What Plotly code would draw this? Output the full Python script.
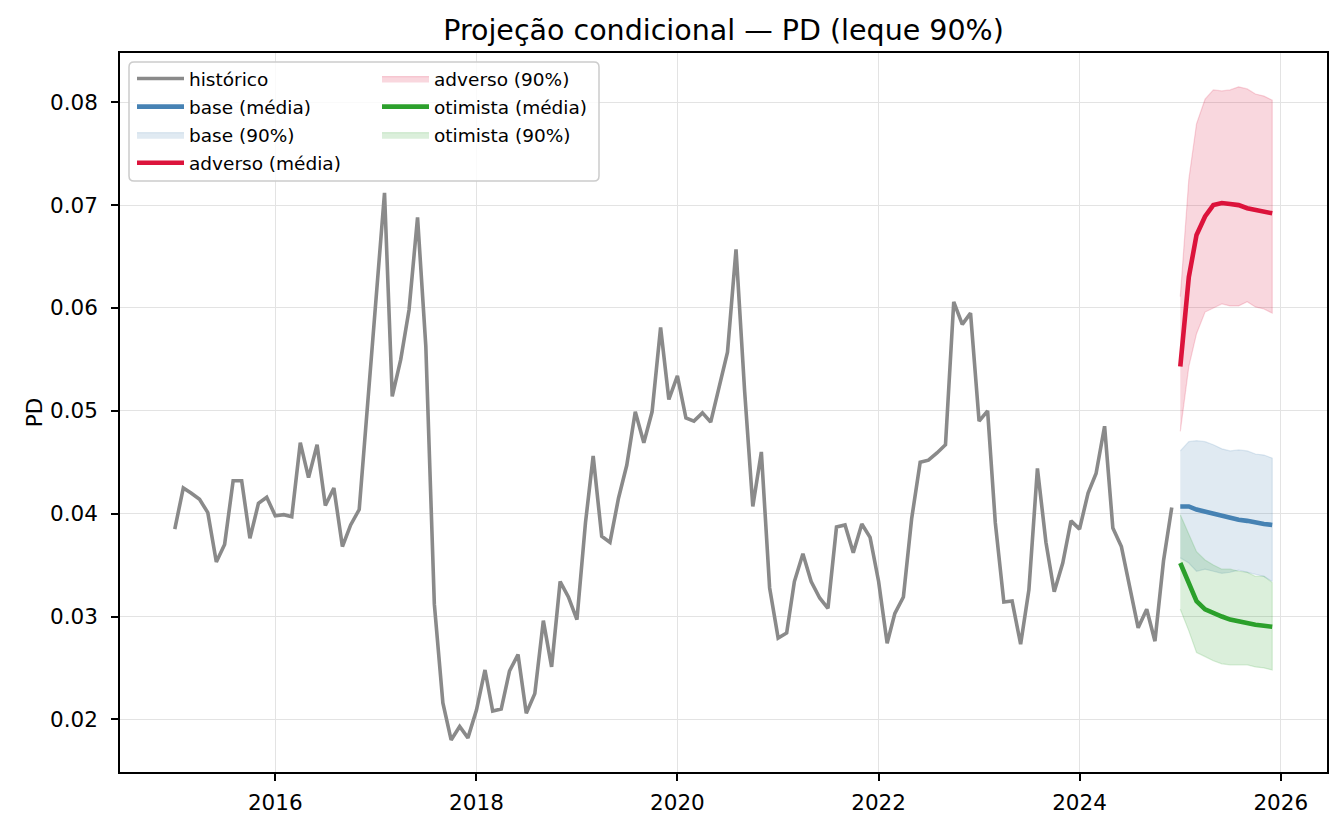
import pandas as pd
import plotly.graph_objects as go

# ---------------- dados ----------------
hist_start = "2015-01-01"
fcst_start = "2025-01-01"

historico = [
    0.0385, 0.0425, 0.0420, 0.0414, 0.0401, 0.0353, 0.0370, 0.0432, 0.0432, 0.0376, 0.0410, 0.0416,
    0.0398, 0.0399, 0.0397, 0.0469, 0.0435, 0.0467, 0.0408, 0.0425, 0.0368, 0.0389, 0.0404, 0.0503,
    0.0603, 0.0712, 0.0514, 0.0550, 0.0598, 0.0688, 0.0563, 0.0312, 0.0216, 0.0180, 0.0193, 0.0182,
    0.0209, 0.0248, 0.0208, 0.0210, 0.0247, 0.0263, 0.0206, 0.0225, 0.0296, 0.0251, 0.0334, 0.0319,
    0.0297, 0.0391, 0.0456, 0.0378, 0.0372, 0.0415, 0.0447, 0.0499, 0.0469, 0.0499, 0.0581, 0.0511,
    0.0534, 0.0493, 0.0490, 0.0498, 0.0489, 0.0522, 0.0557, 0.0657, 0.0520, 0.0407, 0.0460, 0.0328,
    0.0279, 0.0284, 0.0334, 0.0361, 0.0334, 0.0318, 0.0308, 0.0387, 0.0389, 0.0362, 0.0390, 0.0377,
    0.0334, 0.0274, 0.0303, 0.0319, 0.0395, 0.0450, 0.0452, 0.0459, 0.0467, 0.0606, 0.0584, 0.0595,
    0.0490, 0.0500, 0.0391, 0.0314, 0.0315, 0.0273, 0.0326, 0.0444, 0.0372, 0.0324, 0.0352, 0.0393,
    0.0385, 0.0420, 0.0439, 0.0485, 0.0386, 0.0368, 0.0328, 0.0289, 0.0307, 0.0276, 0.0354, 0.0406,
]

base_media = [0.0407, 0.0407, 0.0404, 0.0402, 0.0400, 0.0397, 0.0396, 0.0394, 0.0393, 0.0391, 0.0390, 0.0389]
base_sup = [0.0461, 0.0470, 0.0471, 0.0470, 0.0467, 0.0463, 0.0461, 0.0462, 0.0461, 0.0458, 0.0457, 0.0454]
base_inf = [0.0357, 0.0352, 0.0344, 0.0346, 0.0344, 0.0342, 0.0343, 0.0345, 0.0343, 0.0341, 0.0339, 0.0334]

adv_media = [0.0543, 0.0630, 0.0671, 0.0689, 0.0700, 0.0702, 0.0701, 0.0700, 0.0697, 0.0695, 0.0694, 0.0692]
adv_sup = [0.0611, 0.0725, 0.0779, 0.0803, 0.0812, 0.0811, 0.0812, 0.0815, 0.0813, 0.0808, 0.0806, 0.0802]
adv_inf = [0.0480, 0.0543, 0.0575, 0.0596, 0.0600, 0.0604, 0.0602, 0.0602, 0.0606, 0.0601, 0.0599, 0.0595]

oti_media = [0.0352, 0.0333, 0.0315, 0.0307, 0.0303, 0.0300, 0.0297, 0.0295, 0.0294, 0.0292, 0.0291, 0.0290]
oti_sup = [0.0399, 0.0381, 0.0363, 0.0355, 0.0350, 0.0346, 0.0346, 0.0344, 0.0343, 0.0339, 0.0339, 0.0333]
oti_inf = [0.0307, 0.0286, 0.0265, 0.0261, 0.0257, 0.0254, 0.0253, 0.0253, 0.0253, 0.0251, 0.0250, 0.0248]

datas_hist = pd.date_range(hist_start, periods=len(historico), freq="MS")
datas_fc = pd.date_range(fcst_start, periods=len(base_media), freq="MS")

FONT = "DejaVu Sans"
L, R, T, B = 120, 16, 53, 59
W, H = 1343, 831
pw, ph = W - L - R, H - T - B


def banda(sup, inf, rgb, nome, leg):
    xs = list(datas_fc) + list(datas_fc[::-1])
    ys = list(sup) + list(inf[::-1])
    return go.Scatter(x=xs, y=ys, fill="toself", mode="lines",
                      fillcolor=f"rgba({rgb},0.17)", line=dict(color=f"rgba({rgb},0.17)", width=1.2),
                      name=nome, legend=leg, legendgroup=nome, hoverinfo="skip")


fig = go.Figure()
fig.add_trace(go.Scatter(x=datas_hist, y=historico, mode="lines", name="histórico",
                         line=dict(color="#8a8a8a", width=3.6), legend="legend", legendgroup="h"))
fig.add_trace(go.Scatter(x=datas_fc, y=base_media, mode="lines", name="base (média)",
                         line=dict(color="steelblue", width=4.6), legend="legend", legendgroup="bm"))
fig.add_trace(banda(base_sup, base_inf, "70,130,180", "base (90%)", "legend"))
fig.add_trace(go.Scatter(x=datas_fc, y=adv_media, mode="lines", name="adverso (média)",
                         line=dict(color="crimson", width=4.6), legend="legend", legendgroup="am"))
fig.add_trace(banda(adv_sup, adv_inf, "220,20,60", "adverso (90%)", "legend2"))
fig.add_trace(go.Scatter(x=datas_fc, y=oti_media, mode="lines", name="otimista (média)",
                         line=dict(color="#2ca02c", width=4.6), legend="legend2", legendgroup="om"))
fig.add_trace(banda(oti_sup, oti_inf, "44,160,44", "otimista (90%)", "legend2"))

# moldura da legenda (px -> paper)
def px2x(p):
    return (p - L) / pw


def px2y(p):
    return 1 - (p - T) / ph


x0, x1, y0, y1 = px2x(129), px2x(599), px2y(62), px2y(181)
rx, ry = 5 / pw, 5 / ph
caminho = (f"M{x0 + rx},{y0} L{x1 - rx},{y0} Q{x1},{y0} {x1},{y0 - ry} "
           f"L{x1},{y1 + ry} Q{x1},{y1} {x1 - rx},{y1} L{x0 + rx},{y1} "
           f"Q{x0},{y1} {x0},{y1 + ry} L{x0},{y0 - ry} Q{x0},{y0} {x0 + rx},{y0} Z")
fig.add_shape(type="path", path=caminho, xref="paper", yref="paper", layer="above",
              fillcolor="rgba(255,255,255,0.8)", line=dict(color="#cccccc", width=1.5))

leg_common = dict(font=dict(family=FONT, size=18.5, color="black"), bgcolor="rgba(0,0,0,0)",
                  borderwidth=0, xanchor="left", yanchor="top", itemwidth=47,
                  traceorder="grouped", tracegroupgap=1)

eixo = dict(showline=True, mirror=True, linecolor="black", linewidth=1.7,
            ticks="outside", ticklen=7, tickwidth=1.7, tickcolor="black",
            showgrid=True, gridcolor="#e3e3e3", gridwidth=1.3, zeroline=False,
            tickfont=dict(family=FONT, size=21.5, color="black"))

fig.update_layout(
    width=W, height=H,
    margin=dict(l=L, r=R, t=T, b=B),
    paper_bgcolor="white", plot_bgcolor="white",
    title=dict(text="Projeção condicional — PD (leque 90%)", x=0.5, xref="paper",
               xanchor="center", y=1 - 30 / H, yanchor="middle",
               font=dict(family=FONT, size=28.5, color="black")),
    legend=dict(x=px2x(132), y=px2y(60), **leg_common),
    legend2=dict(x=px2x(377), y=px2y(60), **leg_common),
    xaxis=dict(type="date", range=["2014-06-16", "2026-06-18"], tick0="2016-01-01",
               dtick="M24", tickformat="%Y", ticklabelstandoff=3, **eixo),
    yaxis=dict(range=[0.01488, 0.08479], tickvals=[0.02, 0.03, 0.04, 0.05, 0.06, 0.07, 0.08],
               tickformat=".2f", ticklabelstandoff=9,
               title=dict(text="PD", font=dict(family=FONT, size=21.5, color="black"), standoff=1),
               **eixo),
)

fig.write_html("out.html", config={"displayModeBar": False},
               post_script="document.body.style.margin='0';")
